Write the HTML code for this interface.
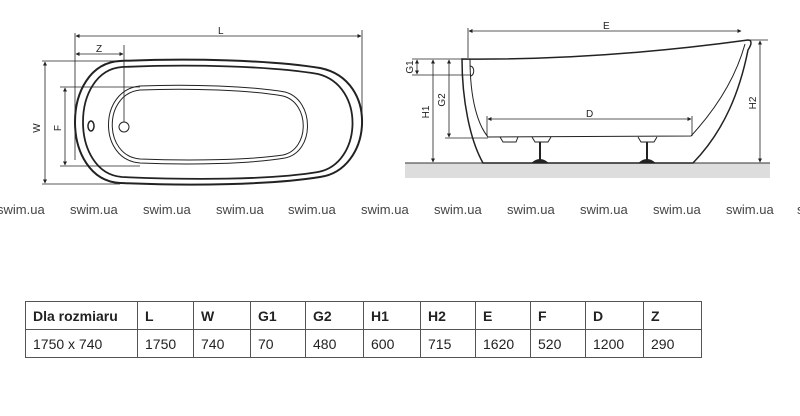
<!DOCTYPE html>
<html><head><meta charset="utf-8"><style>
body{margin:0;background:#fff;width:800px;height:416px;overflow:hidden;font-family:"Liberation Sans",sans-serif}
svg{position:absolute;left:0;top:0}
table{position:absolute;left:25px;top:301px;width:676px;table-layout:fixed;border-collapse:collapse;font-family:"Liberation Sans",sans-serif;font-size:14px;color:#222}
td{border:1px solid #555;padding:0 0 0 7px;height:27px;text-align:left;white-space:nowrap;overflow:hidden}
tr:first-child td{font-weight:bold}
</style></head><body>
<svg width="800" height="416" viewBox="0 0 800 416">
<defs><marker id="a" viewBox="0 0 8 8" refX="7" refY="4" markerWidth="5" markerHeight="5" orient="auto-start-reverse"><path d="M0,0L8,4L0,8z" fill="#222"/></marker></defs>
<g fill="none" stroke="#222">
<path d="M120,61 C190,58 270,60 320,68 C380,80 372,170 320,177 C270,185 190,186 120,183 C60,180 60,64 120,61Z" stroke-width="2"/>
<path d="M122,67 C190,64 270,66 318,74 C366,86 362,164 318,172 C270,180 190,180 122,177 C70,173 70,71 122,67Z" stroke-width="1.8"/>
<path d="M140,86 C190,84 250,86 285,92 C315,100 315,152 285,158 C250,164 190,165 140,163 C98,160 98,90 140,86Z" stroke-width="1"/>
<path d="M140,90 C190,88 250,90 283,96 C310,103 310,149 283,155 C250,160 190,161 140,159 C103,156 103,94 140,90Z" stroke-width="1"/>
<ellipse cx="91" cy="126" rx="3" ry="5" stroke-width="1.5"/>
<circle cx="124" cy="127" r="5" stroke-width="1"/>
<g stroke-width="0.8">
<line x1="75" y1="33" x2="75" y2="160"/><line x1="362" y1="30" x2="362" y2="130"/>
<line x1="76" y1="36" x2="361" y2="36" marker-start="url(#a)" marker-end="url(#a)"/>
<line x1="124" y1="45" x2="124" y2="122"/>
<line x1="76" y1="54" x2="123" y2="54" marker-start="url(#a)" marker-end="url(#a)"/>
<line x1="42" y1="61" x2="120" y2="61"/><line x1="42" y1="184" x2="120" y2="184"/>
<line x1="45" y1="62" x2="45" y2="183" marker-start="url(#a)" marker-end="url(#a)"/>
<line x1="60" y1="87" x2="140" y2="87"/><line x1="60" y1="166" x2="140" y2="166"/>
<line x1="65" y1="88" x2="65" y2="165" marker-start="url(#a)" marker-end="url(#a)"/>
</g>
</g>
<rect x="405" y="163" width="365" height="15" fill="#ddd"/>
<line x1="405" y1="163" x2="770" y2="163" stroke="#333" stroke-width="1"/>
<g fill="none" stroke="#222">
<path d="M462,59 C560,60 660,52 748,40 C752,40 752,44 748,50 C740,90 725,130 693,163 L483,163 C470,140 462,100 462,59Z" fill="#fff" stroke-width="1.5"/>
<path d="M470,59 C470,100 478,125 488,137 L691,136 C715,110 735,80 745,44" stroke-width="1"/>
<path d="M470,66 C475,66 475,76 470,76" stroke-width="1"/>
<path d="M500,137 L503,142 L516,142 L518,137" stroke-width="1"/>
<path d="M532,137 L535,142 L548,142 L551,137" stroke-width="1"/>
<path d="M638,137 L641,142 L654,142 L657,137" stroke-width="1"/>
<g stroke-width="0.8">
<line x1="468" y1="28" x2="468" y2="58"/>
<line x1="469" y1="31" x2="741" y2="31" marker-start="url(#a)" marker-end="url(#a)"/>
<line x1="748" y1="40" x2="768" y2="40"/>
<line x1="760" y1="41" x2="760" y2="162" marker-start="url(#a)" marker-end="url(#a)"/>
<line x1="412" y1="59" x2="465" y2="59"/><line x1="412" y1="75" x2="470" y2="75"/>
<line x1="417" y1="60" x2="417" y2="74" marker-start="url(#a)" marker-end="url(#a)"/>
<line x1="433" y1="60" x2="433" y2="162" marker-start="url(#a)" marker-end="url(#a)"/>
<line x1="449" y1="60" x2="449" y2="137" marker-start="url(#a)" marker-end="url(#a)"/>
<line x1="445" y1="138" x2="488" y2="138"/>
<line x1="487" y1="116" x2="487" y2="136"/><line x1="692" y1="116" x2="692" y2="136"/>
<line x1="488" y1="119" x2="691" y2="119" marker-start="url(#a)" marker-end="url(#a)"/>
</g>
</g>
<g fill="#222" stroke="#222">
<line x1="540" y1="142" x2="540" y2="160" stroke-width="2"/><line x1="647" y1="142" x2="647" y2="160" stroke-width="2"/>
<path d="M532,163 Q540,156 548,163Z"/><path d="M639,163 Q647,156 655,163Z"/>
</g>
<g font-size="10" fill="#222">
<text x="218" y="34">L</text><text x="96" y="52">Z</text>
<text x="40" y="128" transform="rotate(-90 40 128)" text-anchor="middle">W</text>
<text x="61" y="128" transform="rotate(-90 61 128)" text-anchor="middle">F</text>
<text x="603" y="29">E</text><text x="586" y="117">D</text>
<text x="413" y="67" transform="rotate(-90 413 67)" text-anchor="middle">G1</text>
<text x="429" y="112" transform="rotate(-90 429 112)" text-anchor="middle">H1</text>
<text x="445" y="100" transform="rotate(-90 445 100)" text-anchor="middle">G2</text>
<text x="756" y="103" transform="rotate(-90 756 103)" text-anchor="middle">H2</text>
</g>
<g font-size="13" fill="#444">
<text x="-3" y="214">swim.ua</text><text x="70" y="214">swim.ua</text><text x="143" y="214">swim.ua</text><text x="216" y="214">swim.ua</text><text x="288" y="214">swim.ua</text><text x="361" y="214">swim.ua</text><text x="434" y="214">swim.ua</text><text x="507" y="214">swim.ua</text><text x="580" y="214">swim.ua</text><text x="653" y="214">swim.ua</text><text x="726" y="214">swim.ua</text><text x="797" y="214">swim.ua</text>
</g>
</svg>
<table>
<colgroup><col style="width:112px"><col style="width:56px"><col style="width:57px"><col style="width:55px"><col style="width:58px"><col style="width:57px"><col style="width:55px"><col style="width:55px"><col style="width:55px"><col style="width:58px"><col style="width:58px"></colgroup>
<tr><td>Dla rozmiaru</td><td>L</td><td>W</td><td>G1</td><td>G2</td><td>H1</td><td>H2</td><td>E</td><td>F</td><td>D</td><td>Z</td></tr>
<tr><td>1750 x 740</td><td>1750</td><td>740</td><td>70</td><td>480</td><td>600</td><td>715</td><td>1620</td><td>520</td><td>1200</td><td>290</td></tr>
</table>
</body></html>
